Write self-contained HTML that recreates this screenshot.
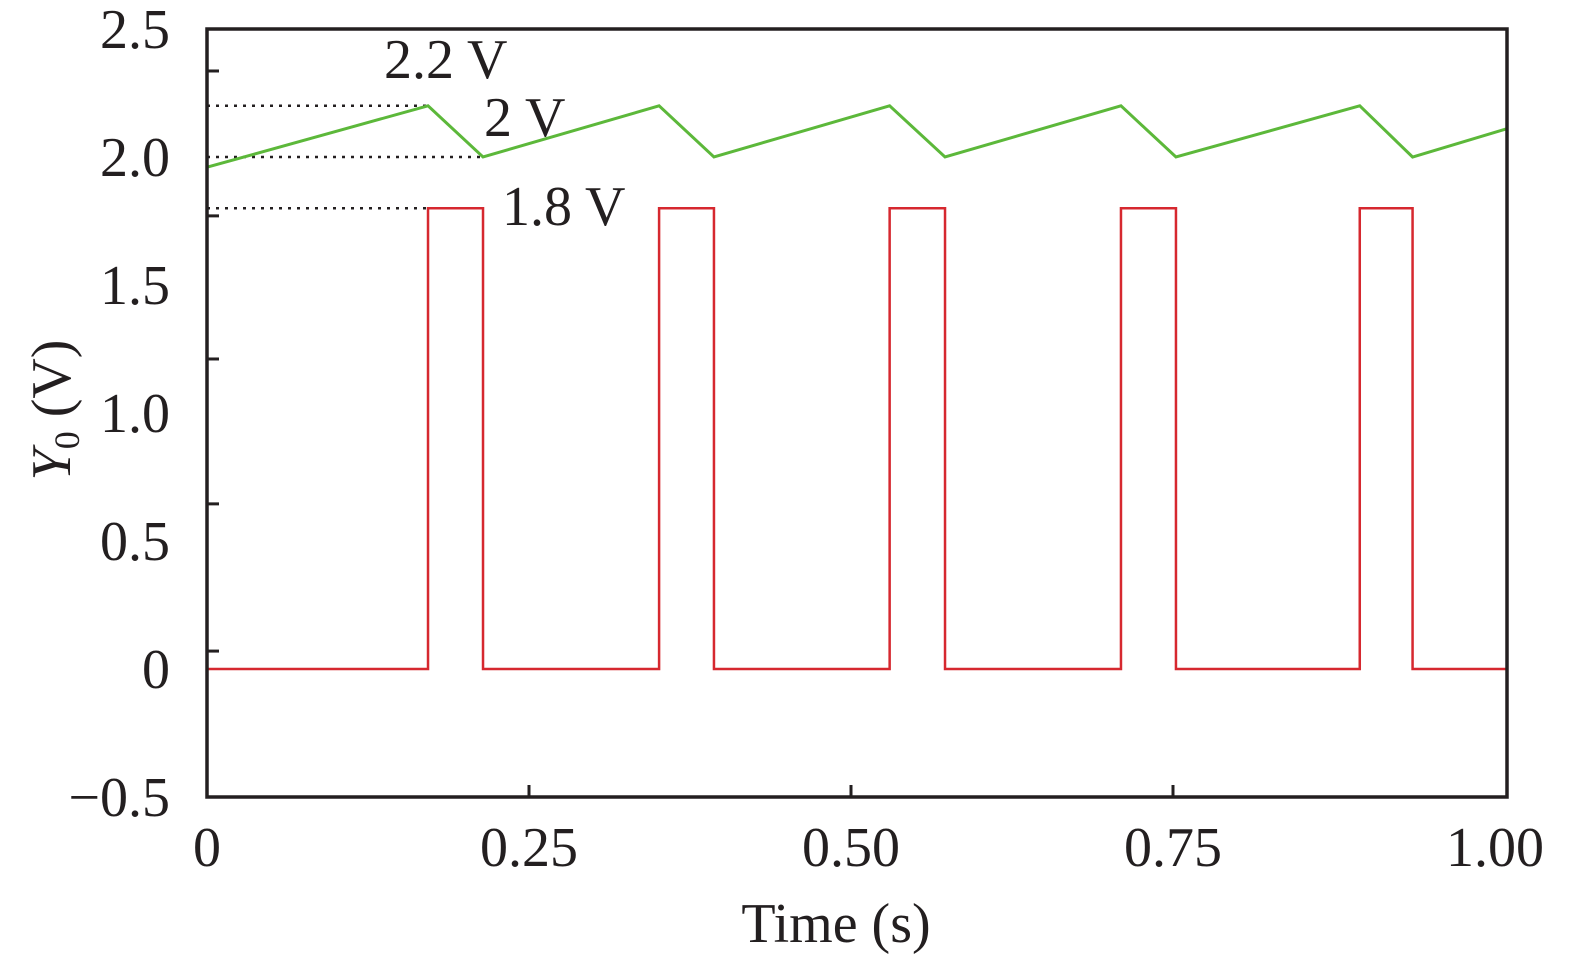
<!DOCTYPE html>
<html><head><meta charset="utf-8"><style>
html,body{margin:0;padding:0;background:#fff;width:1575px;height:962px;overflow:hidden}
svg text{font-family:"Liberation Serif",serif;fill:#231f20}
</style></head><body>
<svg id="chart" width="1575" height="962" viewBox="0 0 1575 962" xmlns="http://www.w3.org/2000/svg"></svg>
<script>
const xTicks=[0,0.25,0.5,0.75,1.0];
const xTickLabels=["0","0.25","0.50","0.75","1.00"];
const yLabels=[2.5,2.0,1.5,1.0,0.5,0,-0.5];
const yLabelText=["2.5","2.0","1.5","1.0","0.5","0","\u22120.5"];
const yTickMarks=[2.336,1.770,1.211,0.645,0.070];
const riseTimes=[0.1716,0.351,0.530,0.7096,0.895];
const fallTimes=[0.2143,0.3936,0.573,0.7523,0.936];
const pulseHigh=1.8, pulseLow=0;
const greenT=[0,0.1716,0.2143,0.351,0.3936,0.530,0.573,0.7096,0.7523,0.895,0.936,1.009];
const greenV=[1.96,2.2,2.0,2.2,2.0,2.2,2.0,2.2,2.0,2.2,2.0,2.11];
const refLevels=[2.2,2.0,1.8];
const refEnds=[0.1716,0.2143,0.1716];
const refText=["2.2 V","2 V","1.8 V"];

const L=207,FR=1507,T=29,B=797,SX=1288;
const X=t=>L+t*SX;
const Y=v=>669-v*256;
const svg=document.getElementById('chart');
const NS='http://www.w3.org/2000/svg';
function mk(tag,attrs,parent){const e=document.createElementNS(NS,tag);for(const k in attrs)e.setAttribute(k,attrs[k]);(parent||svg).appendChild(e);return e;}

refLevels.forEach((v,i)=>{
  const l=mk('line',{x1:L,x2:X(refEnds[i]),y1:Y(v),y2:Y(v),stroke:'#231f20','stroke-width':2.5,'stroke-dasharray':'3,6'});
  
  
});
let d=greenT.map((t,i)=>(i?'L':'M')+X(t)+','+Y(greenV[i])).join(' ');
const g=mk('path',{d:d,fill:'none',stroke:'#5cb83a','stroke-width':3});


let rd='M'+X(0)+','+Y(pulseLow);
riseTimes.forEach((r,i)=>{rd+=' L'+X(r)+','+Y(pulseLow)+' L'+X(r)+','+Y(pulseHigh)+' L'+X(fallTimes[i])+','+Y(pulseHigh)+' L'+X(fallTimes[i])+','+Y(pulseLow);});
rd+=' L'+X(1.009)+','+Y(pulseLow);
const rp=mk('path',{d:rd,fill:'none',stroke:'#d6282f','stroke-width':2.5});


const fr=mk('rect',{x:L,y:T,width:FR-L,height:B-T,fill:'none',stroke:'#231f20','stroke-width':3.5});


yTickMarks.forEach(v=>{
  const t=mk('line',{x1:L,x2:L+12,y1:Y(v),y2:Y(v),stroke:'#231f20','stroke-width':3});
  
  
});
yLabels.forEach((v,i)=>{
  const t=mk('text',{x:170,y:Y(v)+19,'text-anchor':'end','font-size':56});
  t.textContent=yLabelText[i];
  
  
});
xTicks.forEach((v,i)=>{
  if(i>0&&i<xTicks.length-1){
    const tk=mk('line',{x1:X(v),x2:X(v),y1:B,y2:B-12,stroke:'#231f20','stroke-width':3});
    
    
  }
  const t=mk('text',{x:X(v),y:866,'text-anchor':'middle','font-size':56});
  t.textContent=xTickLabels[i];
  
  
});
const ax=[384,484,502], ay=[78,136,225];
refText.forEach((s,i)=>{
  const t=mk('text',{x:ax[i],y:ay[i],'font-size':56});
  t.textContent=s;
  
  
});
const xt=mk('text',{x:836,y:942,'text-anchor':'middle','font-size':56});
xt.textContent='Time (s)';


const yt=mk('text',{transform:'translate(70,410) rotate(-90)','text-anchor':'middle','font-size':56});
yt.innerHTML='<tspan font-style="italic">Y</tspan><tspan font-size="36" dy="9">0</tspan><tspan dy="-9"> (V)</tspan>';


</script>
</body></html>
